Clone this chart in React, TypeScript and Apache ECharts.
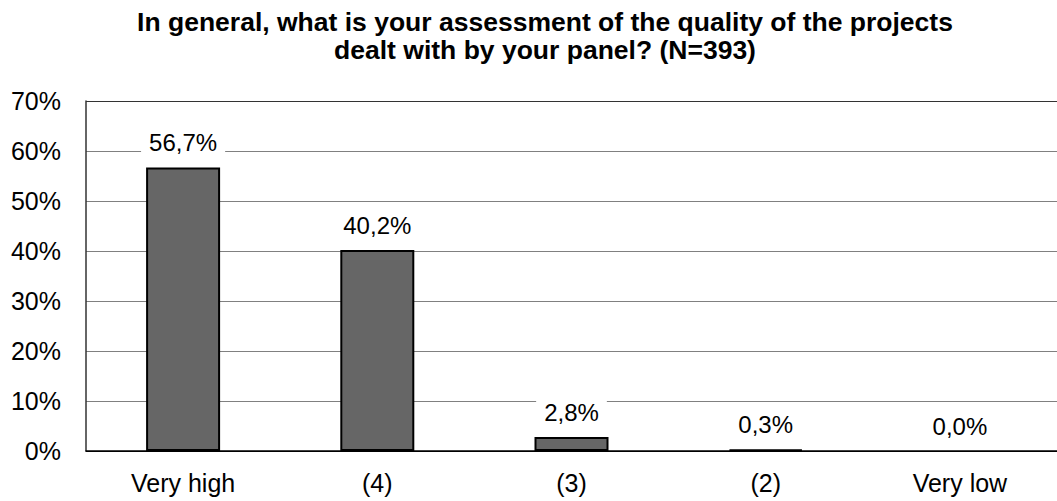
import React, { useEffect, useRef } from "react";
import * as echarts from "echarts";

const categories = ["Very high", "(4)", "(3)", "(2)", "Very low"];
const shares = [56.7, 40.2, 2.8, 0.3, 0.0];
const titleLines = [
  "In general, what is your assessment of the quality of the projects",
  "dealt with by your panel? (N=393)",
];
const yMax = 70;
const yStep = 10;

const FONT = "'Liberation Sans', Arial, sans-serif";

export default function App() {
  const ref = useRef<HTMLDivElement>(null);
  useEffect(() => {
    document.body.style.margin = "0";
    const chart = echarts.init(ref.current!, null, { renderer: "svg" });
    const splitColors = [
      "#000000", "#808080", "#808080", "#808080",
      "#808080", "#808080", "#808080", "#333333",
    ];
    chart.setOption({
      animation: false,
      backgroundColor: "#ffffff",
      textStyle: { fontFamily: FONT },
      graphic: [
        {
          type: "text",
          x: 545,
          y: 8,
          style: {
            text: titleLines.join("\n"),
            align: "center",
            verticalAlign: "top",
            fontFamily: FONT,
            fontWeight: "bold",
            fontSize: 26.5,
            lineHeight: 28,
            fill: "#000",
          },
        },
      ],
      grid: { left: 86, top: 101, width: 979, height: 350, containLabel: false },
      xAxis: {
        type: "category",
        data: categories,
        axisLine: { show: true, lineStyle: { color: "#000", width: 1.5 } },
        axisTick: { show: false },
        axisLabel: { color: "#000", fontSize: 25, fontFamily: FONT, margin: 19, interval: 0 },
        splitLine: { show: false },
      },
      yAxis: {
        type: "value",
        min: 0,
        max: yMax,
        interval: yStep,
        axisLine: { show: true, lineStyle: { color: "#333", width: 1.5 } },
        axisTick: { show: false },
        axisLabel: {
          color: "#000",
          fontSize: 25,
          fontFamily: FONT,
          margin: 25,
          formatter: (v: number) => `${v}%`,
        },
        splitLine: { show: true, lineStyle: { color: splitColors, width: 1.2 } },
      },
      series: [
        {
          type: "bar",
          data: shares.map((v) => ({
            value: v,
            itemStyle: v === 0 ? { borderWidth: 0 } : undefined,
          })),
          barWidth: 74,
          itemStyle: { color: "#666666", borderColor: "#000", borderWidth: 2 },
          label: {
            show: true,
            position: "top",
            distance: 10,
            color: "#000",
            fontSize: 24,
            fontFamily: FONT,
            backgroundColor: "#fff",
            padding: [3, 8],
            formatter: (p: any) => `${Number(p.value).toFixed(1).replace(".", ",")}%`,
          },
        },
      ],
    });
    return () => chart.dispose();
  }, []);
  return <div ref={ref} style={{ width: 1057, height: 501 }} />;
}
